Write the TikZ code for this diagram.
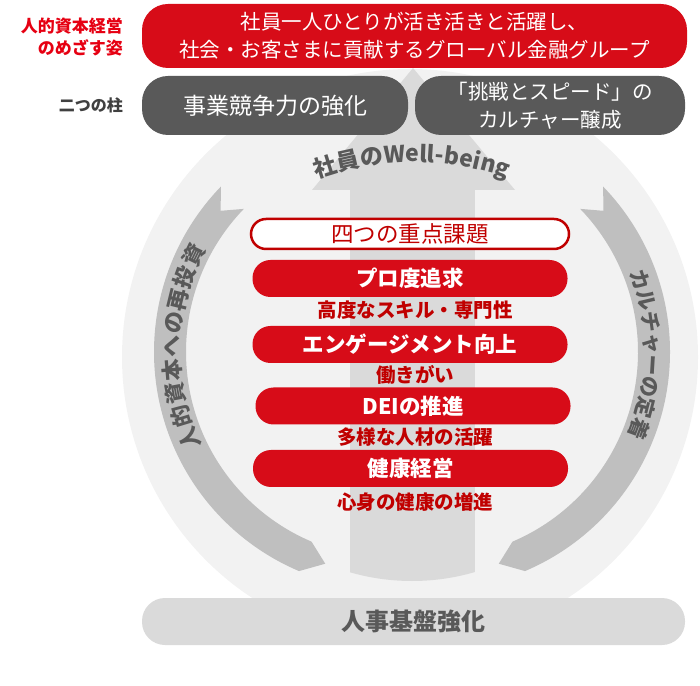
\documentclass[tikz,border=0pt]{standalone}
\usepackage{fontspec}
\setmainfont{Noto Sans CJK JP}
\usetikzlibrary{decorations.text}
\definecolor{topred}{RGB}{215,12,24}
\definecolor{labelred}{RGB}{230,0,18}
\definecolor{darkred}{RGB}{192,0,0}
\definecolor{pillargray}{RGB}{89,89,89}
\definecolor{labelgray}{RGB}{64,64,64}
\definecolor{circlegray}{RGB}{242,242,242}
\definecolor{arrowgray}{RGB}{218,218,218}
\definecolor{bandgray}{RGB}{191,191,191}
\definecolor{textgray}{RGB}{89,89,89}
\begin{document}
\begin{tikzpicture}[x=1pt, y=1pt,
	pill/.style={fill=topred, rounded corners=18pt, minimum width=315pt, minimum height=37pt, inner sep=0pt, text=white, font=\bfseries\fontsize{21.5}{21.5}\selectfont},
	sub/.style={inner sep=0pt, text=darkred, font=\bfseries\fontsize{19.5}{19.5}\selectfont},
	pillar/.style={fill=pillargray, rounded corners=26pt, minimum height=59pt, inner sep=0pt, text=white, align=center}]
	\useasboundingbox (0,0) rectangle (700,685);
	% circle and the big arrow
	\fill[circlegray] (410,328) circle (288pt);
	\fill[arrowgray] (312,495) -- (413,617) -- (515,495) -- cycle;
	\begin{scope}
		\clip (412,328) circle (224pt);
		\fill[arrowgray] (350,496) rectangle (475,60);
	\end{scope}
	% left band
	\begin{scope}[shift={(392,333)}]
		\fill[bandgray] (136:238pt) arc[start angle=136, end angle=247, radius=238pt] -- (252.5:222pt)
			-- (247:206pt) arc[start angle=247, end angle=136, radius=206pt] -- (140.5:222pt) -- cycle;
		\path[decorate, decoration={text along path, text align={fit to path}, text color=textgray,
			text={|\bfseries\fontsize{22}{22}\selectfont|人的資本への再投資}}]
			(206:212pt) arc[start angle=206, end angle=151, radius=212pt];
	\end{scope}
	% right band
	\begin{scope}[shift={(432,333)}]
		\fill[bandgray] (44:238pt) arc[start angle=44, end angle=-67, radius=238pt] -- (-72.5:222pt)
			-- (-67:206pt) arc[start angle=-67, end angle=44, radius=206pt] -- (39.5:222pt) -- cycle;
		\path[decorate, decoration={text along path, text align={fit to path}, text color=textgray,
			text={|\bfseries\fontsize{21}{21}\selectfont|カルチャーの定着}}]
			(22:213pt) arc[start angle=22, end angle=-21.5, radius=213pt];
	\end{scope}
	\path[decorate, decoration={text along path, text align=center, text color=textgray,
		text={|\bfseries\fontsize{23}{23}\selectfont|社員のWell-being}}]
		(412,238) ++(115:285pt) arc[start angle=115, end angle=65, radius=285pt];
	% goal and pillars
	\node[fill=topred, rounded corners=26pt, minimum width=545pt, minimum height=64pt, inner sep=0pt, text=white, align=center, font=\fontsize{20.5}{28}\selectfont] (goal) at (414.5,649) {社員一人ひとりが活き活きと活躍し、\\社会・お客さまに貢献するグローバル金融グループ};
	\node[pillar, minimum width=266pt, font=\fontsize{23}{23}\selectfont] (business) at (275,579.5) {事業競争力の強化};
	\node[pillar, minimum width=270pt, font=\fontsize{20.5}{28}\selectfont] (culture) at (550,579.5) {「挑戦とスピード」の\\カルチャー醸成};
	\node[anchor=east, align=right, inner sep=0pt, text=labelred, font=\bfseries\fontsize{17}{22}\selectfont] (goallabel) at (123,648) {人的資本経営\\のめざす姿};
	\node[anchor=east, inner sep=0pt, text=labelgray, font=\bfseries\fontsize{16}{16}\selectfont] (pillarlabel) at (123,580) {二つの柱};
	% four key issues
	\node[pill, fill=white, draw=darkred, line width=2.5pt, minimum width=318pt, minimum height=30pt, rounded corners=15pt, text=darkred, font=\fontsize{22.5}{22.5}\selectfont] (issues) at (410,451) {四つの重点課題};
	\node[pill] (pro) at (410,406.5) {プロ度追求};
	\node[sub] (prosub) at (415,375) {高度なスキル・専門性};
	\node[pill] (engage) at (410,340.5) {エンゲージメント向上};
	\node[sub] (engagesub) at (415,310) {働きがい};
	\node[pill] (dei) at (413,279) {DEIの推進};
	\node[sub] (deisub) at (415,248) {多様な人材の活躍};
	\node[pill] (health) at (410.5,216.5) {健康経営};
	\node[sub] (healthsub) at (415,183) {心身の健康の増進};
	% foundation
	\node[fill=arrowgray, rounded corners=23pt, minimum width=543pt, minimum height=47pt, inner sep=0pt, text=textgray, font=\bfseries\fontsize{24}{24}\selectfont] (base) at (413.5,63.5) {人事基盤強化};
\end{tikzpicture}
\end{document}
